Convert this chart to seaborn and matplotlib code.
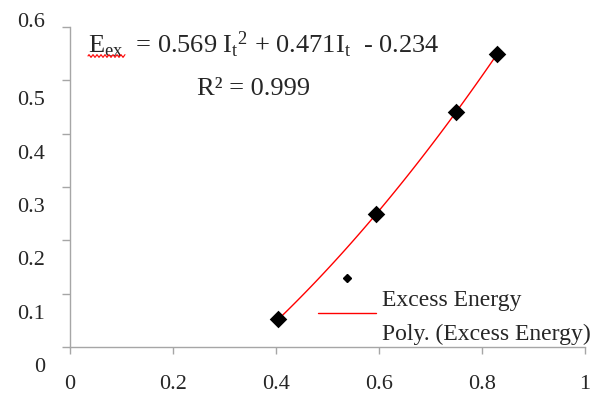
import numpy as np
import pandas as pd
import matplotlib
matplotlib.use("Agg")
import matplotlib.pyplot as plt
import matplotlib.transforms as mtransforms
from matplotlib.lines import Line2D
import seaborn as sns

# values
it_values = [0.405, 0.595, 0.75, 0.83]
excess_energy = [0.052, 0.25, 0.44, 0.55]

x_ticks = [0, 0.2, 0.4, 0.6, 0.8, 1]
x_tick_labels = ["0", "0.2", "0.4", "0.6", "0.8", "1"]
y_ticks = [0, 0.1, 0.2, 0.3, 0.4, 0.5, 0.6]
y_tick_labels = ["0", "0.1", "0.2", "0.3", "0.4", "0.5", "0.6"]

equation_text = r"E$_{ex}$  = 0.569 I$_t$$^2$ + 0.471I$_t$  - 0.234"
r2_text = "R² = 0.999"
legend_labels = ["Excess Energy", "Poly. (Excess Energy)"]

df = pd.DataFrame({"It": it_values, "Eex": excess_energy})

# 2nd order polynomial trendline, like excel does it
coef = np.polyfit(df["It"], df["Eex"], 2)
fit_x = np.linspace(df["It"].min(), df["It"].max(), 100)
fit = pd.DataFrame({"It": fit_x, "Eex": np.polyval(coef, fit_x)})

sns.set_theme(style="white")
plt.rcParams["font.family"] = ["Liberation Serif", "DejaVu Serif"]
plt.rcParams["mathtext.fontset"] = "custom"
plt.rcParams["mathtext.rm"] = "Liberation Serif"
plt.rcParams["mathtext.it"] = "Liberation Serif"
plt.rcParams["mathtext.default"] = "rm"

gray = "#a6a6a6"
txt = "#262626"

fig, ax = plt.subplots(figsize=(5.98, 4.03), dpi=100)
fig.subplots_adjust(left=0.117, right=0.978, bottom=0.139, top=0.933)

sns.lineplot(data=fit, x="It", y="Eex", color="red", lw=1, ax=ax, legend=False)
sns.scatterplot(data=df, x="It", y="Eex", marker="D", s=80, color="black",
                linewidth=0, ax=ax, zorder=3, legend=False)

ax.set_xlim(0, 1)
ax.set_ylim(0, 0.6)
ax.set_xticks(x_ticks, x_tick_labels)
ax.set_yticks(y_ticks, y_tick_labels)
ax.set_xlabel("")
ax.set_ylabel("")

sns.despine(ax=ax)
for s in ["left", "bottom"]:
    ax.spines[s].set_color(gray)
    ax.spines[s].set_linewidth(1)

ax.tick_params(axis="x", bottom=True, direction="out", length=5, width=1,
               color=gray, pad=15, labelsize=16, labelcolor=txt)
ax.tick_params(axis="y", left=True, direction="out", length=6, width=1,
               color=gray, pad=12, labelsize=16, labelcolor=txt)

# the y labels sit below their ticks in the original (top one above)
for lab, val in zip(ax.get_yticklabels(), y_ticks):
    dy = 7 if val == 0.6 else -18
    off = mtransforms.ScaledTranslation(0, dy / 100, fig.dpi_scale_trans)
    lab.set_transform(lab.get_transform() + off)

ax.text(0.035, 0.944, equation_text, transform=ax.transAxes, fontsize=19,
        color=txt, va="center", ha="left")
ax.text(0.247, 0.806, r2_text, transform=ax.transAxes, fontsize=19,
        color=txt, va="center", ha="left")

# red spell-check squiggle under E_ex
wx = np.linspace(88, 125, 60)
wy = 403 - 56 + 1.3 * np.sin((wx - 88) * 2 * np.pi / 4)
fig.add_artist(Line2D(wx / 598, wy / 403, color="red", lw=0.8,
                      transform=fig.transFigure))

handles = [Line2D([], [], marker="D", color="black", ls="none", markersize=4),
           Line2D([], [], color="red", lw=1)]
leg = ax.legend(handles, legend_labels, loc="upper left",
                bbox_to_anchor=(0.482, 0.18), frameon=False, fontsize=17,
                handlelength=2.45, handletextpad=0.25, labelspacing=0.55,
                borderpad=0, borderaxespad=0)
for t in leg.get_texts():
    t.set_color(txt)
for h in leg.legend_handles:
    h.set_ydata(np.asarray(h.get_ydata(), dtype=float) + 14)

fig.savefig("out.png", dpi=100)
